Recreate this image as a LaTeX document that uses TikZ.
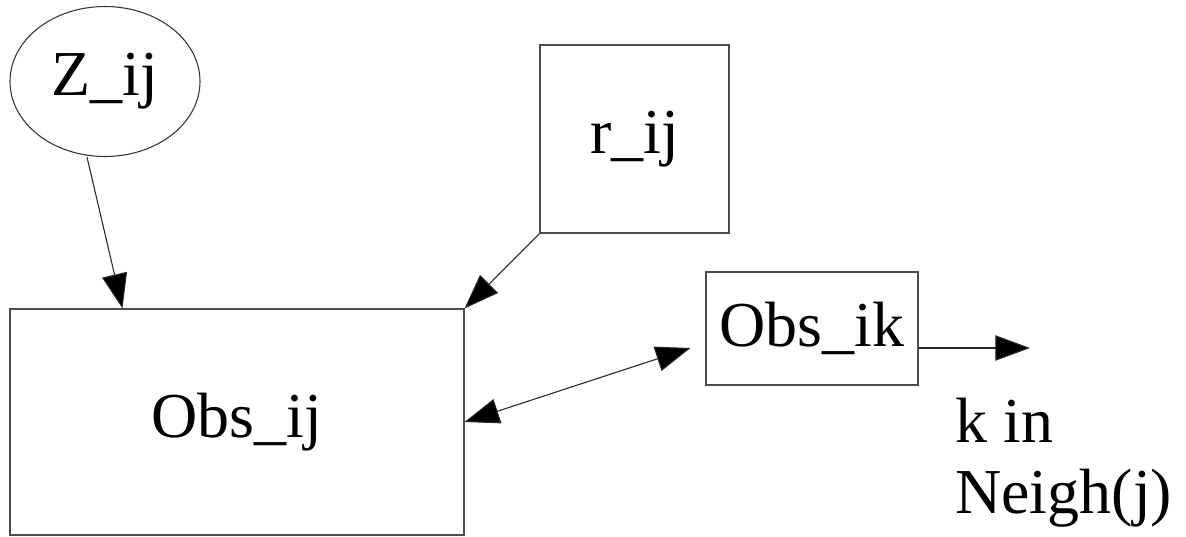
\documentclass[tikz,border=0pt]{standalone}
\usepackage{fontspec}
\setmainfont{Liberation Serif}
\usetikzlibrary{shapes.geometric,arrows.meta,calc}
\begin{document}
\begin{tikzpicture}[x=0.75pt,y=-0.75pt,
  every node/.style={font=\fontsize{48}{54}\selectfont},
  boxnode/.style={draw=black!70,line width=0.8pt,rectangle,inner sep=0pt},
  ellnode/.style={draw=black!80,line width=0.8pt,ellipse,inner sep=0pt},
  txt/.style={inner sep=0pt},
  arr/.style={draw=black!85,line width=0.8pt,-{Triangle[length=26pt,width=19pt,fill=black]}},
  darr/.style={draw=black!85,line width=0.8pt,{Triangle[length=26pt,width=19pt,fill=black]}-{Triangle[length=26pt,width=19pt,fill=black]}}]
\useasboundingbox[fill=white] (0,0) rectangle (1186,536);
\node[ellnode,minimum width=142.5pt,minimum height=112.5pt] (z) at (105,81.5) {Z\_ij};
\node[boxnode,minimum width=141.75pt,minimum height=141pt] (r) at (634.5,139) {r\_ij};
\node[boxnode,minimum width=340.5pt,minimum height=169.5pt] (obsij) at (237,422) {Obs\_ij};
\node[boxnode,minimum width=159pt,minimum height=84.75pt] (obsik) at (812,328.5) {Obs\_ik};
\coordinate (kend) at (1030,348);
\node[txt,anchor=base west] (kin) at (955,442) {k in};
\node[txt,anchor=base west] (neigh) at (955,513) {Neigh(j)};
\draw[arr] ($(z.south)+(-18,0)$) -- ($(obsij.north west)+(113,0)$);
\draw[arr] (r.south west) -- (obsij.north east);
\draw[darr] (obsij.east) -- ($(obsik.west)+(-15,19.5)$);
\draw[arr] ($(obsik.east)+(0,19.5)$) -- (kend);
\end{tikzpicture}
\end{document}
